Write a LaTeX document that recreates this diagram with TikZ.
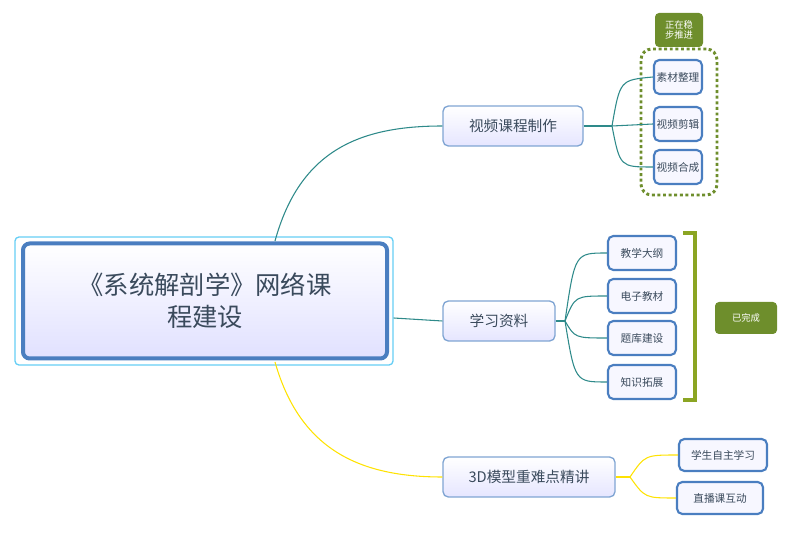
\documentclass[tikz,border=0pt]{standalone}
\usepackage{fontspec}
\newfontfamily\cjk{Noto Sans CJK SC}
\definecolor{bord}{HTML}{4A7EC0}
\definecolor{grn}{HTML}{6E8E2C}
\definecolor{tl}{HTML}{2E8A8A}
\definecolor{txt}{HTML}{3A4A5C}
\begin{document}
\begin{tikzpicture}[x=0.75pt,y=-0.75pt,
  leaf/.style={draw=bord,line width=1.6pt,rounded corners=4pt,fill=blue!3,
     minimum height=30*0.75pt,inner sep=1pt,font=\cjk\fontsize{8}{9}\selectfont,text=txt},
  mid/.style={draw=bord!70,line width=1pt,rounded corners=4pt,top color=white,bottom color=blue!10,
     minimum height=40*0.75pt,font=\cjk\fontsize{11}{12}\selectfont,text=txt},
  tag/.style={fill=grn,rounded corners=3pt,text=white,font=\cjk\itshape\fontsize{7}{8}\selectfont,align=center,inner sep=2pt},
  teal/.style={draw=tl,line width=0.8pt},
  yel/.style={draw=yellow!85!orange,line width=0.8pt}]
\useasboundingbox (0,0) rectangle (800,534);
\node[draw=cyan!60,line width=1pt,rounded corners=3pt,minimum width=378*0.75pt,minimum height=128*0.75pt] (co) at (204,301) {};
\node[draw=bord,line width=3pt,rounded corners=5pt,top color=white,bottom color=blue!12,
  minimum width=364*0.75pt,minimum height=115*0.75pt,align=center,text=txt,
  font=\cjk\fontsize{19}{24}\selectfont] (c) at (205,301) {《系统解剖学》网络课\\程建设};
\node[mid,minimum width=140*0.75pt] (v) at (513,126) {视频课程制作};
\node[mid,minimum width=112*0.75pt] (x) at (499,321) {学习资料};
\node[mid,minimum width=172*0.75pt] (d) at (529,477) {3D模型重难点精讲};
% top group
\node[draw=grn,dotted,line width=2.2pt,rounded corners=8pt,minimum width=76*0.75pt,minimum height=146*0.75pt] (g) at (679,122) {};
\node[tag,minimum width=48*0.75pt,minimum height=34*0.75pt] (t1) at (679,30) {正在稳\\步推进};
\node[leaf,minimum width=48*0.75pt,minimum height=34*0.75pt] (a1) at (678,77) {素材整理};
\node[leaf,minimum width=48*0.75pt,minimum height=34*0.75pt] (a2) at (678,124) {视频剪辑};
\node[leaf,minimum width=48*0.75pt,minimum height=34*0.75pt] (a3) at (678,167) {视频合成};
\node[leaf,minimum width=68*0.75pt,minimum height=34*0.75pt] (b1) at (642,253) {教学大纲};
\node[leaf,minimum width=68*0.75pt,minimum height=34*0.75pt] (b2) at (642,296) {电子教材};
\node[leaf,minimum width=68*0.75pt,minimum height=34*0.75pt] (b3) at (642,338) {题库建设};
\node[leaf,minimum width=68*0.75pt,minimum height=34*0.75pt] (b4) at (642,382) {知识拓展};
\node[tag,minimum width=62*0.75pt,minimum height=32*0.75pt] (t2) at (746,318) {已完成};
\node[leaf,minimum width=88*0.75pt,minimum height=32*0.75pt] (s1) at (723,455) {学生自主学习};
\node[leaf,minimum width=86*0.75pt,minimum height=32*0.75pt] (s2) at (720,498) {直播课互动};
% bracket
\coordinate (bk1) at (683,233); \coordinate (bk2) at (683,400);
\draw[draw=grn!80!yellow,line width=3pt] (bk1) -- ++(12,0) -- ++(0,167) -- (bk2);
% main connectors
\draw[teal] (275,241) .. controls (300,150) and (360,126) .. (v.west);
\draw[teal] (co.east |- 0,318) -- (x.west);
\draw[yel] (275,362) .. controls (300,450) and (360,477) .. (d.west);
\coordinate (j1) at (612,126);
\draw[teal] (v.east) -- (j1);
\draw[teal] (j1) .. controls (620,80) .. (a1.west);
\draw[teal] (j1) -- (a2.west);
\draw[teal] (j1) .. controls (620,167) .. (a3.west);
\coordinate (j2) at (565,321);
\draw[teal] (x.east) -- (j2);
\foreach \b/\y in {b1/253,b2/296,b3/338,b4/382}
  \draw[teal] (j2) .. controls (575,\y) .. (\b.west);
\coordinate (j3) at (630,477);
\draw[yel] (d.east) -- (j3);
\draw[yel] (j3) .. controls (645,455) .. (s1.west);
\draw[yel] (j3) .. controls (645,498) .. (s2.west);
\end{tikzpicture}
\end{document}
